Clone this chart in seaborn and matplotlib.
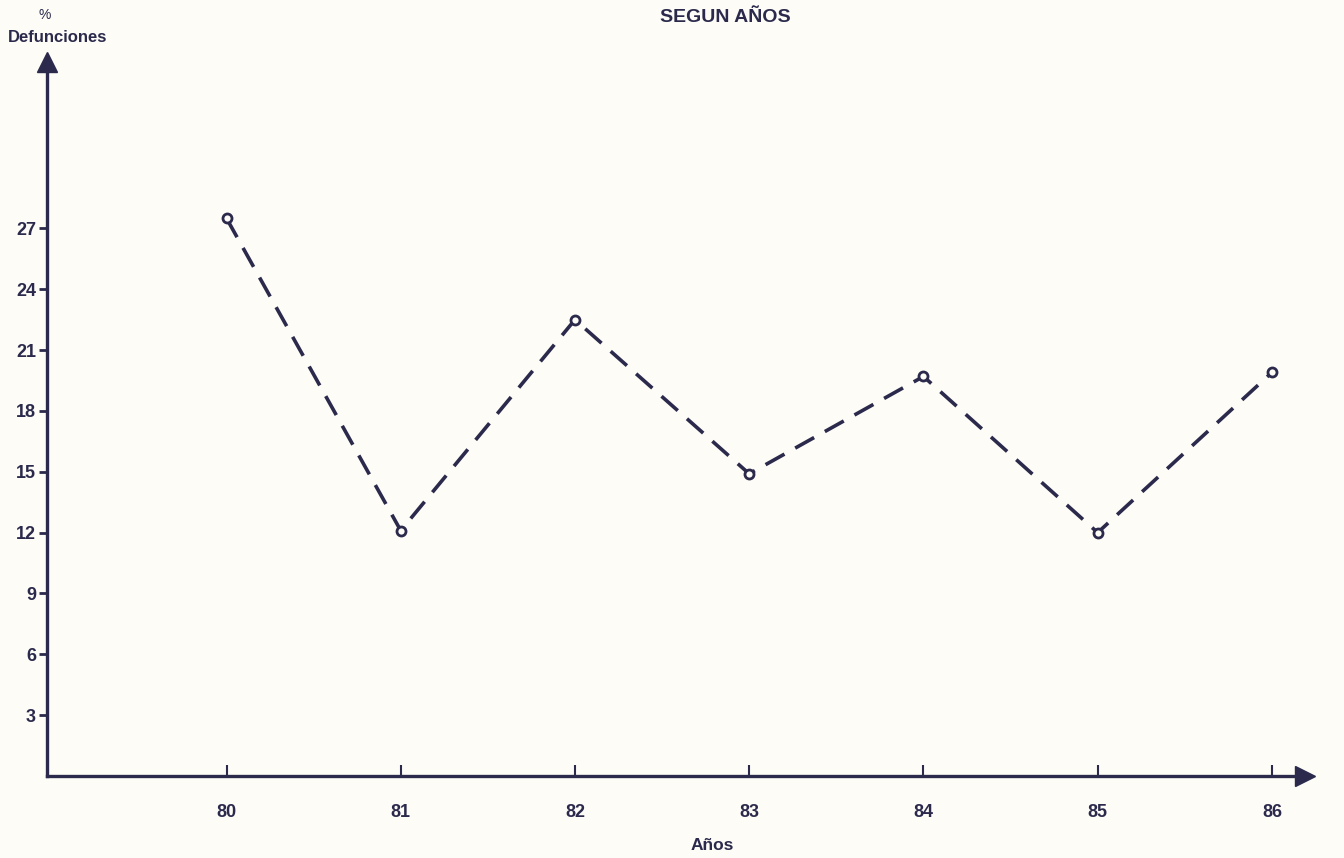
import pandas as pd
import numpy as np
import matplotlib.pyplot as plt
import seaborn as sns

# Data
years = ["80", "81", "82", "83", "84", "85", "86"]
deaths_pct = [27.5, 12.1, 22.5, 14.9, 19.7, 12.0, 19.9]
y_ticks = [3, 6, 9, 12, 15, 18, 21, 24, 27]

df = pd.DataFrame({"year": years, "pct": deaths_pct})

ink = "#2b2a4c"
paper = "#fdfcf6"

sns.set_theme(style="white")
plt.rcParams["font.family"] = ["Liberation Sans", "DejaVu Sans"]

fig = plt.figure(figsize=(13.44, 8.58), dpi=100, facecolor=paper)
ax = fig.add_axes([0.035, 0.0956, 0.936, 0.832], facecolor=paper)

sns.lineplot(data=df, x="year", y="pct", ax=ax, color=ink, linewidth=2.6,
             linestyle=(0, (6, 3.4)), marker="o", markersize=6.5,
             markerfacecolor=paper, markeredgecolor=ink, markeredgewidth=2)

ax.set_xlim(-1.03, 6.19)
ax.set_ylim(0, 35.2)
ax.set_xticks(range(len(years)))
ax.set_xticklabels(years)
ax.set_yticks(y_ticks)
ax.set_yticklabels([str(t) for t in y_ticks])

for s in ["top", "right"]:
    ax.spines[s].set_visible(False)
for s in ["left", "bottom"]:
    ax.spines[s].set_color(ink)
    ax.spines[s].set_linewidth(2.4)

ax.tick_params(axis="y", direction="out", length=6, width=2, color=ink,
               labelcolor=ink, labelsize=13, pad=2, left=True)
ax.tick_params(axis="x", direction="in", length=8, width=1.5, color=ink,
               labelcolor=ink, labelsize=13, pad=20, bottom=True)
for lab in ax.get_xticklabels() + ax.get_yticklabels():
    lab.set_fontweight("bold")

# arrow heads on the axes
ax.plot(1, 0, marker=">", markersize=14, color=ink, transform=ax.transAxes, clip_on=False)
ax.plot(0, 1, marker="^", markersize=14, color=ink, transform=ax.transAxes, clip_on=False)

ax.set_xlabel("")
ax.set_ylabel("")

fig.text(725 / 1344, 1 - 17 / 858, "SEGUN AÑOS", ha="center", va="center",
         fontsize=14, fontweight="bold", color=ink)
fig.text(45 / 1344, 1 - 15 / 858, "%", ha="center", va="center",
         fontsize=10, color=ink)
fig.text(8 / 1344, 1 - 37 / 858, "Defunciones", ha="left", va="center",
         fontsize=12, fontweight="bold", color=ink)
fig.text(712 / 1344, 1 - 845 / 858, "Años", ha="center", va="center",
         fontsize=12.5, fontweight="bold", color=ink)

plt.savefig("out.png", dpi=100, facecolor=paper)
